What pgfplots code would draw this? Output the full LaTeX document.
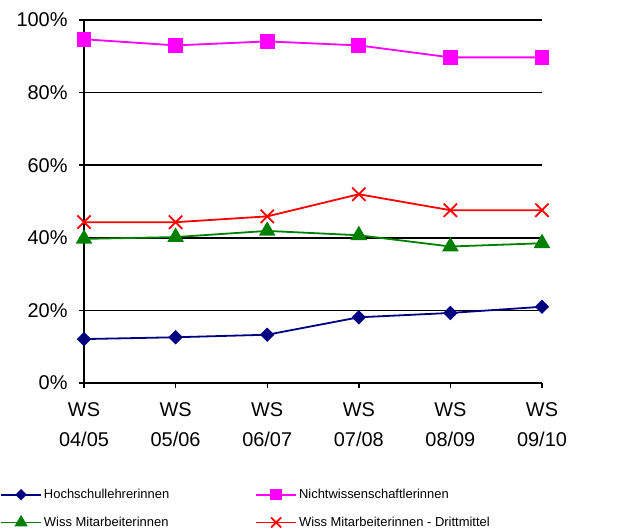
\documentclass[border=0pt]{standalone}
\usepackage{fontspec}
\setmainfont{Liberation Sans}
\usepackage{pgfplots}
\pgfplotsset{compat=1.18}
\definecolor{hblue}{RGB}{0,0,128}
\definecolor{hmag}{RGB}{255,0,255}
\definecolor{hgreen}{RGB}{0,128,0}
\definecolor{hred}{RGB}{255,0,0}
\begin{document}
\begin{tikzpicture}
\path[use as bounding box] (-84bp,-145bp) rectangle (540bp,383bp);
\begin{axis}[
  at={(0,0)}, anchor=south west,
  scale only axis, width=458bp, height=363bp,
  xmin=0, xmax=5, ymin=0, ymax=100,
  axis x line=bottom, axis y line=left,
  axis line style={-, line width=1.6bp},
  xtick={0,...,5},
  xticklabels={{WS\\04/05},{WS\\05/06},{WS\\06/07},{WS\\07/08},{WS\\08/09},{WS\\09/10}},
  xticklabel style={align=center, font=\fontsize{20}{30}\selectfont, yshift=-11bp},
  ytick={0,20,...,100},
  yticklabel={\pgfmathprintnumber{\tick}\%},
  yticklabel style={font=\fontsize{20}{24}\selectfont, xshift=-8bp},
  /pgf/number format/assume math mode=true,
  tick align=outside, major tick length=5bp,
  tick style={black, line width=1.4bp},
  ymajorgrids, grid style={black, line width=1.4bp},
  clip=false,
  legend columns=2,
  legend cell align=left,
  legend style={at={(-0.1834,-0.2865)}, anchor=north west, draw=none, fill=none,
    inner sep=0pt, font=\fontsize{13}{15}\selectfont, row sep=13bp,
    /tikz/every even column/.append style={column sep=84bp}},
  legend image code/.code={\draw[mark repeat=2,mark phase=2,#1,/tikz/every mark/.append style={scale=0.75}] plot coordinates {(0bp,0bp)(20bp,0bp)(40bp,0bp)};},
]
\addplot[hblue, line width=1.8bp, mark=square*, mark size=4.2bp, mark options={rotate=45}]
  coordinates {(0,12.1)(1,12.6)(2,13.3)(3,18.1)(4,19.3)(5,21.0)};
\addlegendentry{Hochschullehrerinnen}
\addplot[hmag, line width=1.8bp, mark=square*, mark size=6.5bp]
  coordinates {(0,94.7)(1,93.0)(2,94.1)(3,93.0)(4,89.7)(5,89.7)};
\addlegendentry{Nichtwissenschaftlerinnen}
\addplot[hgreen, line width=1.8bp, mark=triangle*, mark size=7.8bp]
  coordinates {(0,39.7)(1,40.2)(2,41.9)(3,40.7)(4,37.6)(5,38.5)};
\addlegendentry{Wiss Mitarbeiterinnen}
\addplot[hred, line width=1.8bp, mark=x, mark size=9.4bp, mark options={line width=1.8bp}]
  coordinates {(0,44.3)(1,44.3)(2,45.9)(3,52.0)(4,47.6)(5,47.6)};
\addlegendentry{Wiss Mitarbeiterinnen - Drittmittel}
\end{axis}
\end{tikzpicture}
\end{document}
